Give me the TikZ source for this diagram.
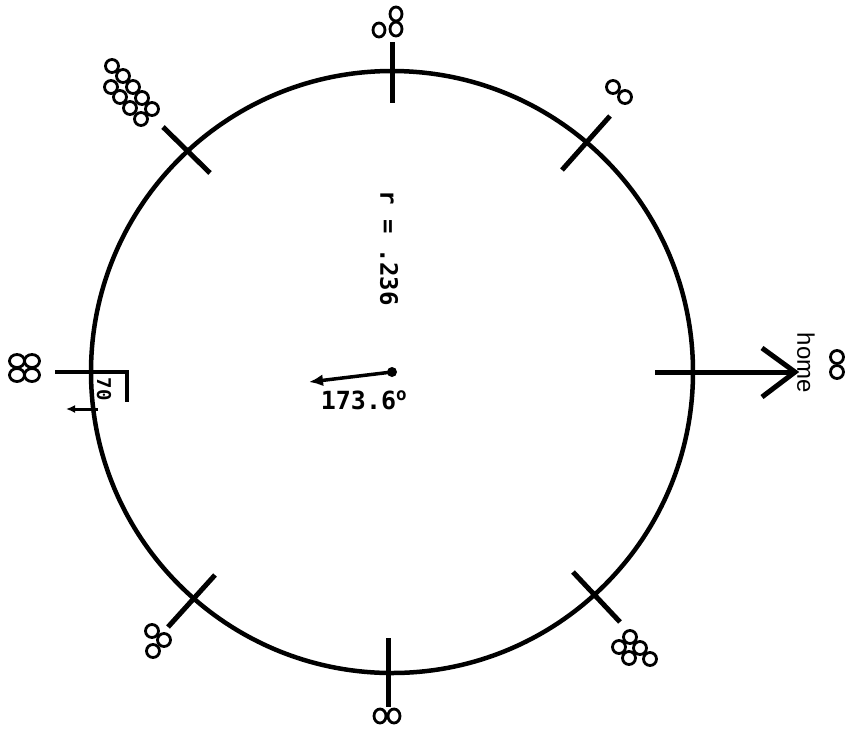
\documentclass[tikz,border=0pt]{standalone}
\usepackage{fontspec}
\setmainfont{Liberation Sans}
\newfontfamily\plotfont{DejaVu Sans Mono}
\usetikzlibrary{arrows.meta}
\begin{document}
\begin{tikzpicture}[x=1pt,y=-1pt,>=latex,
  rim/.style={line width=4.5pt},
  spoke/.style={line width=5pt},
  tally/.style={line width=2.8pt}]
  \useasboundingbox (0,0) rectangle (849,740);
  \coordinate (c) at (392,372);
  \draw[rim] (c) circle (301);
  \draw[spoke] (392,42) -- (392,103);
  \draw[spoke] (610,116) -- (562,170);
  \draw[spoke] (163,127) -- (210,173);
  \draw[spoke] (215,575) -- (168,627);
  \draw[spoke] (573,572) -- (620,622);
  \draw[spoke] (388,638) -- (388,707);
  \draw[spoke] (655,372) -- (793,372);
  \draw[spoke,line join=miter] (762,348) -- (795,372) -- (762,397);
  \draw[line width=3.5pt,line join=miter] (55,372) -- (127,372) -- (127,402);
  \draw[line width=3pt,-{Latex[length=9pt,width=8pt]}] (98,409) -- (66,409);
  \node[rotate=-90,font=\plotfont\bfseries\fontsize{19}{19}\selectfont] (bend) at (104,389) {70};
  \draw[tally] (379,30) ellipse (6 and 7);
  \draw[tally] (396,29) ellipse (6 and 7);
  \draw[tally] (396,14) ellipse (6 and 7);
  \draw[tally] (613,87) circle (6.5);
  \draw[tally] (625,97) circle (6.5);
  \draw[tally] (837,357) circle (6.5);
  \draw[tally] (837,372) circle (6.5);
  \draw[tally] (112,66) circle (6.5);
  \draw[tally] (123,76) circle (6.5);
  \draw[tally] (133,87) circle (6.5);
  \draw[tally] (142,98) circle (6.5);
  \draw[tally] (152,109) circle (6.5);
  \draw[tally] (111,87) circle (6.5);
  \draw[tally] (120,97) circle (6.5);
  \draw[tally] (130,108) circle (6.5);
  \draw[tally] (141,119) circle (6.5);
  \draw[tally] (17,361) ellipse (7.5 and 6.5);
  \draw[tally] (32,361) ellipse (7.5 and 6.5);
  \draw[tally] (17,375) ellipse (7.5 and 6.5);
  \draw[tally] (32,375) ellipse (7.5 and 6.5);
  \draw[tally] (152,631) circle (6.5);
  \draw[tally] (164,640) circle (6.5);
  \draw[tally] (153,651) circle (6.5);
  \draw[tally] (630,637) circle (6.5);
  \draw[tally] (640,648) circle (6.5);
  \draw[tally] (650,659) circle (6.5);
  \draw[tally] (619,647) circle (6.5);
  \draw[tally] (629,658) circle (6.5);
  \draw[tally] (380,716) ellipse (6 and 7);
  \draw[tally] (394,716) ellipse (6 and 7);
  \node[rotate=-90,font=\fontsize{24}{24}\selectfont] (home) at (806,363) {home};
  \node[rotate=-90,font=\plotfont\bfseries\fontsize{24}{24}\selectfont] (radius) at (389,248) {r = .236};
  \fill (c) circle (5);
  \draw[line width=3.5pt,-{Latex[length=14pt,width=12pt]}] (c) -- (309,382);
  \node[font=\plotfont\bfseries\fontsize{25}{25}\selectfont] (angle) at (364,400) {173.6\textsuperscript{o}};
\end{tikzpicture}
\end{document}
